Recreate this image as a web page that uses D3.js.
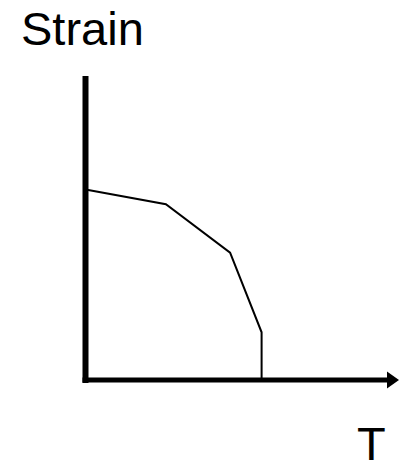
<!DOCTYPE html>
<html>
<head>
<meta charset="utf-8">
<script src="https://cdn.jsdelivr.net/npm/d3@7"></script>
<style>
  body { margin: 0; background: #fff; }
  svg { display: block; }
</style>
</head>
<body>
<div id="viz"></div>
<script>
var width = 399;
var height = 463;

// curve (axes have no ticks)
var temps = [0, 26.8, 48.2, 58.7, 58.7];
var strains = [62.7, 57.8, 41.9, 15.7, 0];
var yLabel = 'Strain';
var xLabel = 'T';

var xScale = d3.scaleLinear().domain([0, 100]).range([85.5, 385.5]);
var yScale = d3.scaleLinear().domain([0, 100]).range([380, 76]);

var svg = d3.select('#viz').append('svg')
  .attr('width', width)
  .attr('height', height)
  .style('background', '#fff');

var points = temps.map((t, i) => [t, strains[i]]);

svg.append('path')
  .datum(points)
  .attr('fill', 'none')
  .attr('stroke', '#000')
  .attr('stroke-width', 2)
  .attr('d', d3.line().x(d => xScale(d[0])).y(d => yScale(d[1])));

// y axis (thick bar, no ticks)
svg.append('line')
  .attr('x1', xScale(0)).attr('x2', xScale(0))
  .attr('y1', yScale(100)).attr('y2', yScale(0) + 3)
  .attr('stroke', '#000')
  .attr('stroke-width', 6);

// x axis with arrow
svg.append('line')
  .attr('x1', xScale(0) - 3).attr('x2', xScale(100) + 2)
  .attr('y1', yScale(0)).attr('y2', yScale(0))
  .attr('stroke', '#000')
  .attr('stroke-width', 5);

var ax = xScale(100) + 1.5, ay = yScale(0);
svg.append('path')
  .attr('d', 'M' + ax + ',' + (ay - 8.5) + 'L' + (ax + 12) + ',' + ay + 'L' + ax + ',' + (ay + 8.5) + 'Z')
  .attr('fill', '#000');

svg.append('text')
  .attr('x', 21)
  .attr('y', 45)
  .style('font-family', 'Liberation Sans, Arial, sans-serif')
  .style('font-size', '47px')
  .text(yLabel);

svg.append('text')
  .attr('x', 357)
  .attr('y', 460)
  .style('font-family', 'Liberation Sans, Arial, sans-serif')
  .style('font-size', '47px')
  .text(xLabel);
</script>
</body>
</html>
